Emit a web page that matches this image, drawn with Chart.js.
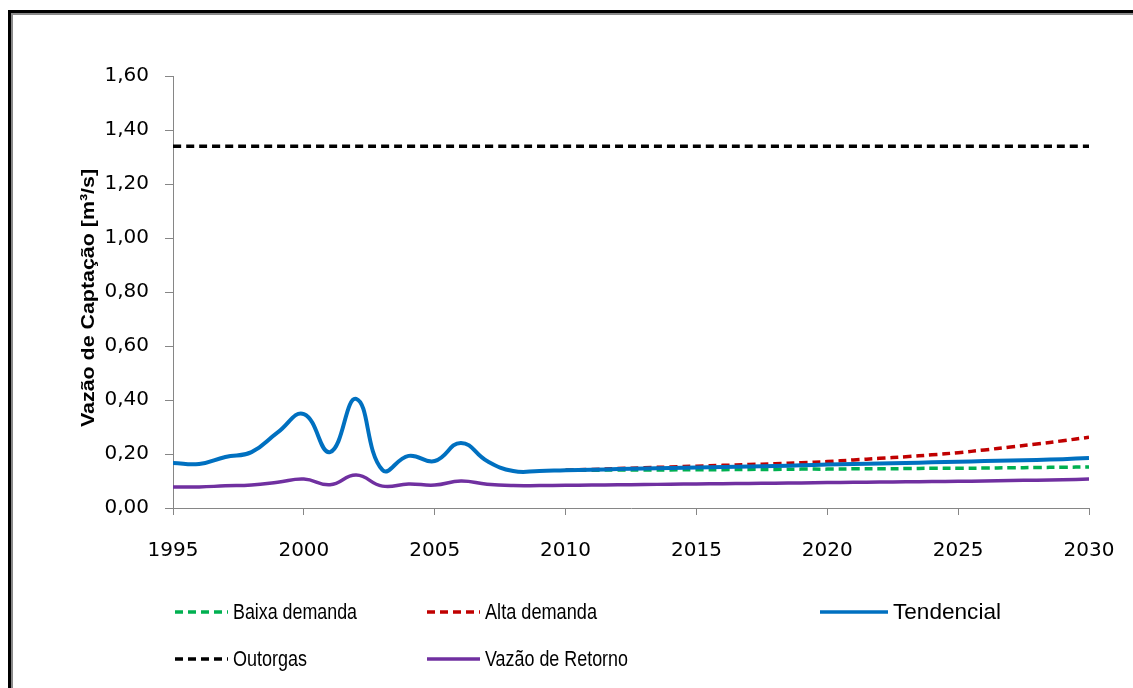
<!DOCTYPE html>
<html>
<head>
<meta charset="utf-8">
<script src="https://cdn.jsdelivr.net/npm/chart.js@4/dist/chart.umd.min.js"></script>
<style>
  html, body { margin: 0; padding: 0; background: #fff; }
  #wrap { position: relative; width: 1133px; height: 688px; overflow: hidden; }
  #frame {
    position: absolute; left: 8px; top: 10px; width: 1140px; height: 700px;
    border: 3px solid #000; box-shadow: inset 2px 2px 0 #8a8a8a; pointer-events: none;
  }
  canvas { position: absolute; left: 0; top: 0; }
</style>
</head>
<body>
<div id="wrap">
  <canvas id="chart" width="1133" height="688"></canvas>
  <div id="frame"></div>
</div>
<script>
// Annual series, m³/s
const years = [1995, 1996, 1997, 1998, 1999, 2000, 2001, 2002, 2003, 2004, 2005, 2006,
  2007, 2008, 2009, 2010, 2011, 2012, 2013, 2014, 2015, 2016, 2017, 2018, 2019, 2020,
  2021, 2022, 2023, 2024, 2025, 2026, 2027, 2028, 2029, 2030];
const tendencial = [0.167, 0.163, 0.189, 0.207, 0.280, 0.348, 0.207, 0.404, 0.141, 0.193,
  0.174, 0.241, 0.174, 0.137, 0.137, 0.140, 0.142, 0.144, 0.146, 0.148, 0.150, 0.152,
  0.154, 0.156, 0.158, 0.161, 0.163, 0.165, 0.167, 0.169, 0.171, 0.174, 0.176, 0.178,
  0.181, 0.185];
const vazaoRetorno = [0.078, 0.078, 0.082, 0.085, 0.095, 0.107, 0.086, 0.122, 0.081, 0.089,
  0.085, 0.100, 0.088, 0.083, 0.083, 0.084, 0.085, 0.086, 0.087, 0.088, 0.089, 0.090,
  0.091, 0.092, 0.093, 0.094, 0.095, 0.096, 0.097, 0.098, 0.099, 0.100, 0.102, 0.103,
  0.105, 0.107];

// Scenario projections
const scenarioYears = [2010, 2011, 2012, 2013, 2014, 2015, 2016, 2017, 2018, 2019, 2020,
  2021, 2022, 2023, 2024, 2025, 2026, 2027, 2028, 2029, 2030];
const baixaDemanda = [0.140, 0.140, 0.141, 0.141, 0.141, 0.142, 0.142, 0.143, 0.143, 0.144,
  0.144, 0.145, 0.145, 0.146, 0.147, 0.147, 0.148, 0.149, 0.150, 0.151, 0.152];
const altaDemanda = [0.140, 0.143, 0.146, 0.149, 0.152, 0.155, 0.158, 0.161, 0.164, 0.168,
  0.172, 0.178, 0.184, 0.190, 0.197, 0.205, 0.215, 0.226, 0.237, 0.249, 0.262];

// Granted withdrawals
const outorgaYears = [1995, 2030];
const outorgas = [1.34, 1.34];

// Axis ticks and title
const yTicks = [0, 0.2, 0.4, 0.6, 0.8, 1.0, 1.2, 1.4, 1.6];
const xTicks = [1995, 2000, 2005, 2010, 2015, 2020, 2025, 2030];
const yTitle = 'Vazão de Captação [m³/s]';

const toPoints = (xs, ys) => xs.map((x, i) => ({ x: x, y: ys[i] }));

const TICK_FONT = { family: "'DejaVu Sans', sans-serif", size: 20 };
const TEXT_FAMILY = "'Liberation Sans', Arial, sans-serif";

// Legend laid out in fixed columns, drawn from the dataset styles
const legendLayout = [
  { label: 'Baixa demanda', x0: 175, x1: 228, y: 612, w: 124 },
  { label: 'Alta demanda', x0: 427, x1: 480, y: 612, w: 112 },
  { label: 'Tendencial', x0: 820, x1: 888, y: 612, w: 108 },
  { label: 'Outorgas', x0: 175, x1: 228, y: 659, w: 74 },
  { label: 'Vazão de Retorno', x0: 427, x1: 480, y: 659, w: 143 }
];

// Draws text whose run is set to a given width (condensed or widened glyphs)
function fitText(ctx, text, x, y, width) {
  const natural = ctx.measureText(text).width;
  ctx.save();
  ctx.translate(x, y);
  ctx.scale(width / natural, 1);
  ctx.fillText(text, 0, 0);
  ctx.restore();
}

const textOverlay = {
  id: 'textOverlay',
  afterDraw(chart) {
    const ctx = chart.ctx;
    ctx.save();
    legendLayout.forEach(item => {
      const ds = chart.data.datasets.find(d => d.label === item.label);
      ctx.strokeStyle = ds.borderColor;
      ctx.lineWidth = 3.5;
      ctx.setLineDash(ds.borderDash || []);
      ctx.lineCap = 'butt';
      ctx.beginPath();
      ctx.moveTo(item.x0, item.y);
      ctx.lineTo(item.x1, item.y);
      ctx.stroke();
      ctx.setLineDash([]);
      ctx.fillStyle = '#000';
      ctx.font = '22px ' + TEXT_FAMILY;
      ctx.textBaseline = 'middle';
      ctx.textAlign = 'left';
      fitText(ctx, item.label, item.x1 + 5, item.y + 1, item.w);
    });
    // vertical axis title
    ctx.translate(94, 427);
    ctx.rotate(-Math.PI / 2);
    ctx.font = 'bold 19px ' + TEXT_FAMILY;
    ctx.textAlign = 'left';
    ctx.textBaseline = 'alphabetic';
    ctx.fillStyle = '#000';
    fitText(ctx, yTitle, 0, 0, 258);
    ctx.restore();
  }
};

new Chart(document.getElementById('chart'), {
  type: 'line',
  data: {
    datasets: [
      { label: 'Baixa demanda', data: toPoints(scenarioYears, baixaDemanda),
        borderColor: '#00B050', borderWidth: 3.5, borderDash: [8, 5], order: 5 },
      { label: 'Alta demanda', data: toPoints(scenarioYears, altaDemanda),
        borderColor: '#C00000', borderWidth: 3.5, borderDash: [8, 5], order: 4 },
      { label: 'Tendencial', data: toPoints(years, tendencial),
        borderColor: '#0070C0', borderWidth: 4, order: 3 },
      { label: 'Outorgas', data: toPoints(outorgaYears, outorgas),
        borderColor: '#000000', borderWidth: 3.5, borderDash: [8, 5], order: 2 },
      { label: 'Vazão de Retorno', data: toPoints(years, vazaoRetorno),
        borderColor: '#7030A0', borderWidth: 3.5, order: 1 }
    ]
  },
  options: {
    responsive: false,
    animation: false,
    devicePixelRatio: 1,
    layout: { padding: { left: 0, top: 76, right: 44, bottom: 120 } },
    elements: {
      point: { radius: 0 },
      line: { tension: 0.45, fill: false, borderCapStyle: 'butt' }
    },
    plugins: { legend: { display: false }, tooltip: { enabled: false } },
    scales: {
      x: {
        type: 'linear', min: 1995, max: 2030,
        afterBuildTicks: s => { s.ticks = xTicks.map(v => ({ value: v })); },
        afterFit: s => { s.height = 60; s.paddingLeft = 0; s.paddingRight = 0; },
        ticks: { font: TICK_FONT, color: '#000', padding: 24, maxRotation: 0,
          callback: v => String(v) },
        grid: { display: true, drawOnChartArea: false, tickLength: 7, color: '#868686', lineWidth: 1 },
        border: { color: '#868686', width: 1 }
      },
      y: {
        min: 0, max: 1.6,
        afterBuildTicks: s => { s.ticks = yTicks.map(v => ({ value: v })); },
        afterFit: s => { s.width = 173; },
        ticks: { font: TICK_FONT, color: '#000', padding: 16,
          callback: v => v.toFixed(2).replace('.', ',') },
        grid: { display: true, drawOnChartArea: false, tickLength: 8, color: '#868686', lineWidth: 1 },
        border: { color: '#868686', width: 1 }
      }
    }
  },
  plugins: [textOverlay]
});
</script>
</body>
</html>
